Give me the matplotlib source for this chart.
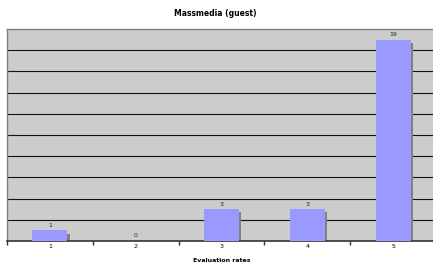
import matplotlib
matplotlib.use("Agg")
import matplotlib.pyplot as plt
import numpy as np

categories = ["1", "2", "3", "4", "5"]
values = [1, 0, 3, 3, 19]

W, H = 433, 267
fig = plt.figure(figsize=(W / 100, H / 100), dpi=100)
fig.patch.set_facecolor("white")
ax = fig.add_axes([7 / W, (H - 241) / H, 429 / W, 212 / H])
ax.set_facecolor("#CCCCCC")

x = np.arange(1, len(categories) + 1)
bw = 0.41
ax.bar(x + 0.025, np.maximum(np.array(values) - 0.3, 0), width=bw, color="#808080", zorder=2, linewidth=0)
ax.bar(x, values, width=bw, color="#9999FF", zorder=3, linewidth=0)
for xi, v in zip(x, values):
    ax.text(xi, v + 0.25, str(v), ha="center", va="bottom", fontsize=4.5, color="#222222", zorder=4)

ax.set_xlim(0.5, len(categories) + 0.5)
ax.set_ylim(0, 20)
ax.set_yticks(np.arange(2, 20, 2))
ax.yaxis.grid(True, color="#111111", linewidth=0.8, zorder=1)
ax.set_axisbelow(True)
ax.tick_params(axis="y", left=False, labelleft=False)
ax.set_xticks(x)
ax.set_xticklabels(categories, fontsize=4.5)
ax.set_xticks(np.arange(0.5, len(categories) + 1, 1), minor=True)
ax.tick_params(axis="x", which="major", length=0, pad=2)
ax.tick_params(axis="x", which="minor", length=3, width=1, direction="out", color="#333333")
for s in ["top", "left", "right"]:
    ax.spines[s].set_color("#808080")
    ax.spines[s].set_linewidth(1)
ax.spines["bottom"].set_color("#333333")
ax.spines["bottom"].set_linewidth(1.2)

ax.set_xlabel("Evaluation rates", fontsize=4.5, fontweight="bold", labelpad=6)
fig.text(215 / W, 1 - 13 / H, "Massmedia (guest)", fontsize=5.5, fontweight="bold", ha="center", va="center")

fig.savefig("out.png", dpi=100)
